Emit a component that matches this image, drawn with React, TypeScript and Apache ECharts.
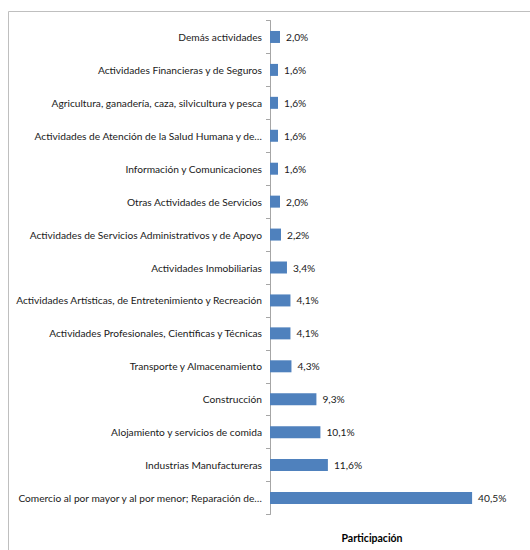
import React, { useEffect, useRef } from "react";
import * as echarts from "echarts";

const categories = [
  "Demás actividades",
  "Actividades Financieras y de Seguros",
  "Agricultura, ganadería, caza, silvicultura y pesca",
  "Actividades de Atención de la Salud Humana y de…",
  "Información y Comunicaciones",
  "Otras Actividades de Servicios",
  "Actividades de Servicios Administrativos y de Apoyo",
  "Actividades Inmobiliarias",
  "Actividades Artísticas, de Entretenimiento y Recreación",
  "Actividades Profesionales, Científicas y Técnicas",
  "Transporte y Almacenamiento",
  "Construcción",
  "Alojamiento y servicios de comida",
  "Industrias Manufactureras",
  "Comercio al por mayor y al por menor; Reparación de…",
];

const participacion = [2.0, 1.6, 1.6, 1.6, 1.6, 2.0, 2.2, 3.4, 4.1, 4.1, 4.3, 9.3, 10.1, 11.6, 40.5];

const axisTitle = "Participación";

const FONT = "Lato, sans-serif";

export default function App() {
  const ref = useRef<HTMLDivElement>(null);
  useEffect(() => {
    if (!ref.current) return;
    const chart = echarts.init(ref.current, null, { renderer: "svg" });
    chart.setOption({
      animation: false,
      grid: { left: 270, right: 10.5, top: 20.5, bottom: 35.5, containLabel: false, outerBoundsMode: "none" },
      xAxis: {
        type: "value",
        min: 0,
        max: 50,
        show: false,
      },
      yAxis: {
        type: "category",
        data: categories,
        inverse: true,
        axisLine: { show: true, lineStyle: { color: "#a6a6a6", width: 1 } },
        axisTick: { show: true, length: 4, lineStyle: { color: "#a6a6a6" } },
        axisLabel: {
          color: "#1a1a1a",
          fontFamily: FONT,
          fontSize: 10.2,
          margin: 8,
        },
      },
      series: [
        {
          type: "bar",
          data: participacion,
          barWidth: 12,
          itemStyle: { color: "#4f81bd" },
          label: {
            show: true,
            position: "right",
            distance: 6,
            color: "#1a1a1a",
            fontFamily: FONT,
            fontSize: 10.2,
            formatter: (p: any) => p.value.toFixed(1).replace(".", ",") + "%",
          },
        },
      ],
      graphic: [
        {
          type: "rect",
          shape: { x: 8.5, y: 11.5, width: 600, height: 600 },
          style: { fill: "none", stroke: "#bfbfbf", lineWidth: 1 },
          silent: true,
          z: -1,
        },
        {
          type: "text",
          x: 372,
          y: 538,
          style: {
            text: axisTitle,
            fill: "#000",
            font: `bold 10.5px ${FONT}`,
            textAlign: "center",
            textVerticalAlign: "middle",
          },
        },
      ],
    });
    return () => chart.dispose();
  }, []);
  return (
    <div
      ref={ref}
      style={{ position: "fixed", left: 0, top: 0, width: 530, height: 550, background: "#fff" }}
    />
  );
}
